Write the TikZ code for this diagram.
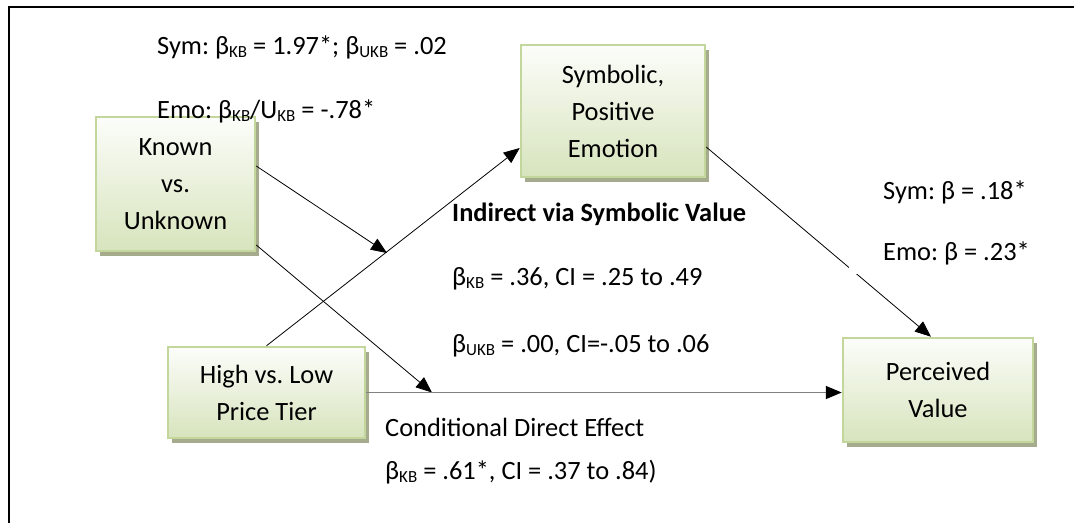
\documentclass[tikz,border=0pt]{standalone}
\usepackage{fontspec}
\setmainfont{Carlito}
\usetikzlibrary{arrows.meta,shadows,calc}
\definecolor{boxborder}{HTML}{C3D69B}
\definecolor{boxbottom}{HTML}{D7E4BD}
\definecolor{boxtop}{HTML}{FCFDFA}
\definecolor{boxshadow}{RGB}{165,171,140}
\definecolor{hline}{HTML}{808080}
\newcommand{\sbx}[1]{\raisebox{-3pt}{\fontsize{17pt}{17pt}\selectfont #1}}
\frenchspacing
\begin{document}
\begin{tikzpicture}[x=1pt,y=-1pt,
  varbox/.style={draw=boxborder, line width=2.5pt, top color=boxtop, bottom color=boxbottom,
    align=center, inner sep=0pt, font=\fontsize{26.4pt}{37pt}\selectfont,
    drop shadow={fill=boxshadow, opacity=1, shadow xshift=4pt, shadow yshift=-5pt}},
  lbl/.style={anchor=base west, inner sep=0pt, font=\fontsize{26.4pt}{32pt}\selectfont},
  arr/.style={-{Triangle[length=16pt,width=13pt,color=black]}, line width=0.8pt},
  frameline/.style={line width=2pt}]
\useasboundingbox (0,0) rectangle (1074,523);
\fill[white] (0,0) rectangle (1074,523);
\draw[frameline] (8.6,523) -- (8.6,6.7) -- (1074,6.7);

\node[varbox, minimum width=159pt, minimum height=134pt] (known) at (175.5,184) {Known\\vs.\\Unknown};
\node[varbox, minimum width=184pt, minimum height=132pt] (sym) at (613,111) {Symbolic,\\Positive\\Emotion};
\node[varbox, minimum width=197pt, minimum height=91pt] (high) at (266.5,392.5) {High vs. Low\\Price Tier};
\node[varbox, minimum width=190pt, minimum height=104pt] (perc) at (938,390) {Perceived\\Value};

\coordinate (k1) at (387,253);
\coordinate (k2) at (432,392.5);
\draw[arr] ([yshift=18pt]known.east) -- (k1);
\draw[arr] ([yshift=-61pt]known.east) -- (k2);
\draw[arr] (high.north) -- ([yshift=-37pt]sym.west);
\draw[arr] ([yshift=-36pt]sym.east) -- ([xshift=-7pt]perc.north);
\draw[arr, draw=hline, line width=1.6pt] (high.east) -- (high.east -| perc.west);

\node[lbl] (t1) at (157,54) {Sym: β\sbx{KB} = 1.97*; β\sbx{UKB} = .02};
\node[lbl] (t2) at (157,118.5) {Emo: β\sbx{KB}/U\sbx{KB} = -.78*};
\node[lbl, font=\fontsize{26.4pt}{32pt}\selectfont\bfseries] (t3) at (452,221) {Indirect via Symbolic Value};
\node[lbl] (t4) at (452,285) {β\sbx{KB} = .36, CI = .25 to .49};
\node[lbl] (t5) at (452,352) {β\sbx{UKB} = .00, CI=-.05 to .06};
\node[lbl] (t6) at (385,436) {Conditional Direct Effect};
\node[lbl] (t7) at (385,479) {β\sbx{KB} = .61*, CI = .37 to .84)};
\node[lbl] (t8) at (883,199) {Sym: β = .18*};
\node[anchor=south west, fill=white, inner xsep=34pt, inner ysep=6pt, text height=19pt, text depth=7pt,
  font=\fontsize{26.4pt}{32pt}\selectfont] (t9) at (849,274) {Emo: β = .23*};
\end{tikzpicture}
\end{document}
